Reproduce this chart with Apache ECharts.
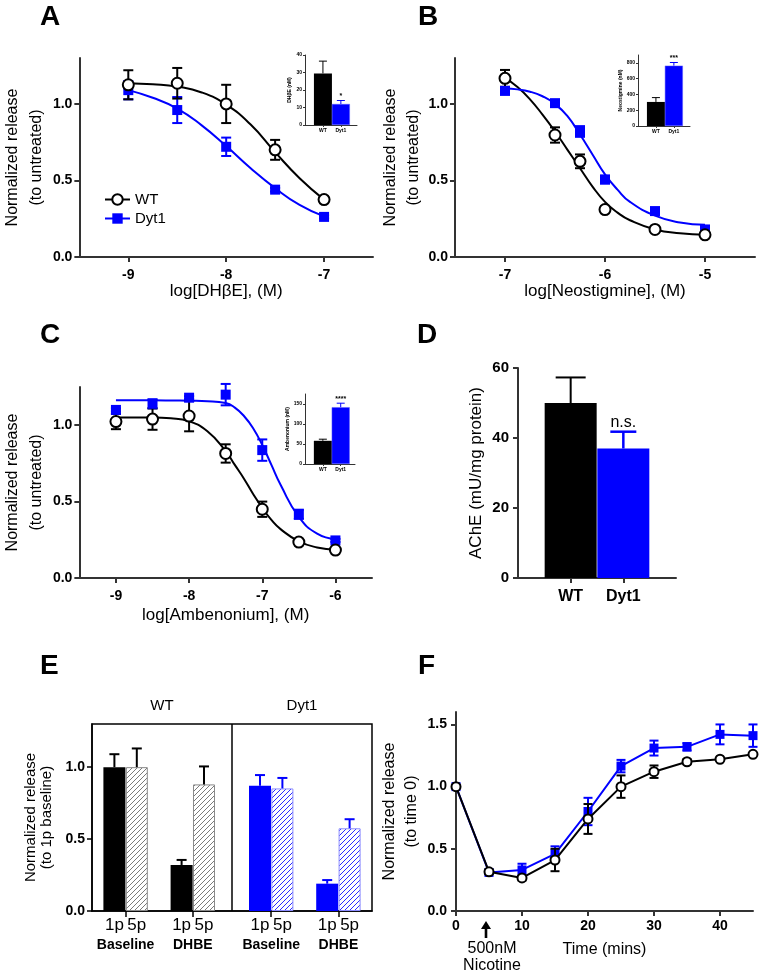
<!DOCTYPE html>
<html lang="en">
<head>
<meta charset="UTF-8">
<title>Dyt1 ACh release</title>
<script src="https://cdn.jsdelivr.net/npm/echarts@6/dist/echarts.min.js"></script>
<style>
html, body { margin: 0; padding: 0; background: #fff; }
#main { width: 760px; height: 975px; }
</style>
</head>
<body>
<div id="main"></div>
<script>
var FONT = "'Liberation Sans', Arial, sans-serif";
var BLUE = '#0000ff';

// A - DHbE dose response
var doseA = [-9, -8.5, -8, -7.5, -7];
var wtA = [1.125, 1.135, 1.0, 0.70, 0.375];
var wtAErr = [0.095, 0.10, 0.125, 0.065, 0.02];
var dytA = [1.09, 0.96, 0.72, 0.44, 0.262];
var dytAErr = [0.06, 0.085, 0.06, 0.012, 0.01];
var fitDoseA = [-9, -8.75, -8.5, -8.25, -8, -7.75, -7.5, -7.25, -7];
var fitWtA = [1.135, 1.128, 1.113, 1.075, 0.995, 0.865, 0.685, 0.515, 0.375];
var fitDytA = [1.09, 1.04, 0.97, 0.86, 0.725, 0.58, 0.45, 0.34, 0.265];
var insetA = [29.5, 12];
var insetAErr = [36.5, 14];

// B - Neostigmine dose response
var doseB = [-7, -6.5, -6.25, -6, -5.5, -5];
var wtB = [1.167, 0.797, 0.625, 0.31, 0.18, 0.145];
var wtBErr = [0.055, 0.05, 0.045, 0.02, 0.01, 0.01];
var dytB = [1.085, 1.005, 0.82, 0.506, 0.30, 0.18];
var dytBErr = [0.01, 0.01, 0.035, 0.025, 0.01, 0.01];
var fitDoseB = [-7, -6.875, -6.75, -6.625, -6.5, -6.375, -6.25, -6.125, -6, -5.875, -5.75, -5.5, -5.25, -5];
var fitWtB = [1.17, 1.11, 1.03, 0.93, 0.82, 0.70, 0.58, 0.46, 0.36, 0.29, 0.24, 0.18, 0.155, 0.145];
var fitDytB = [1.10, 1.095, 1.08, 1.05, 1.00, 0.92, 0.80, 0.67, 0.54, 0.44, 0.36, 0.27, 0.225, 0.21];
var insetB = [305, 765];
var insetBErr = [360, 805];

// C - Ambenonium dose response
var doseC = [-9, -8.5, -8, -7.5, -7, -6.5, -6];
var wtC = [1.024, 1.04, 1.06, 0.815, 0.45, 0.235, 0.183];
var wtCErr = [0.05, 0.07, 0.10, 0.06, 0.05, 0.01, 0.01];
var dytC = [1.10, 1.14, 1.18, 1.20, 0.837, 0.417, 0.246];
var dytCErr = [0.01, 0.03, 0.01, 0.07, 0.07, 0.03, 0.01];
var fitDoseC = [-9, -8.5, -8.25, -8, -7.75, -7.5, -7.375, -7.25, -7.125, -7, -6.875, -6.75, -6.5, -6.25, -6];
var fitWtC = [1.05, 1.05, 1.045, 1.025, 0.96, 0.83, 0.74, 0.65, 0.55, 0.46, 0.38, 0.32, 0.24, 0.20, 0.185];
var fitDytC = [1.163, 1.163, 1.162, 1.16, 1.157, 1.145, 1.115, 1.06, 0.98, 0.87, 0.74, 0.61, 0.40, 0.29, 0.255];
var insetC = [58, 142];
var insetCErr = [62, 152];

// D - AChE activity
var acheD = [50, 37];
var acheDErr = [57.3, 41.8];

// E - 1p / 5p release, order: baseline 1p, baseline 5p, DHBE 1p, DHBE 5p
var relWtE = [1.0, 1.0, 0.32, 0.88];
var relWtEErr = [1.09, 1.13, 0.355, 1.005];
var relDytE = [0.87, 0.852, 0.19, 0.575];
var relDytEErr = [0.945, 0.925, 0.215, 0.638];
var posWtE = [1, 2, 4, 5];
var posDytE = [7.5, 8.5, 10.5, 11.5];

// F - time course after nicotine
var timeF = [0, 5, 10, 15, 20, 25, 30, 35, 40, 45];
var wtF = [1.0, 0.315, 0.266, 0.41, 0.74, 1.0, 1.12, 1.20, 1.22, 1.26];
var wtFErr = [0, 0.02, 0.02, 0.09, 0.12, 0.09, 0.05, 0.02, 0.01, 0.01];
var dytF = [1.0, 0.31, 0.33, 0.46, 0.80, 1.165, 1.31, 1.32, 1.42, 1.41];
var dytFErr = [0, 0.01, 0.05, 0.06, 0.11, 0.05, 0.06, 0.03, 0.08, 0.09];

function zip(xs, ys) {
    return xs.map(function (x, i) { return [x, ys[i]]; });
}
function zipErr(xs, ys, es) {
    return xs.map(function (x, i) { return [x, ys[i] - es[i], ys[i] + es[i]]; });
}
function zipUp(xs, ys, tops) {
    return xs.map(function (x, i) { return [x, ys[i], tops[i]]; });
}

function hatch(color) {
    var c = document.createElement('canvas');
    c.width = 5; c.height = 5;
    var g = c.getContext('2d');
    g.fillStyle = '#fff';
    g.fillRect(0, 0, 5, 5);
    g.strokeStyle = color;
    g.lineWidth = 1;
    g.beginPath();
    g.moveTo(0, 5); g.lineTo(5, 0);
    g.moveTo(-1, 1); g.lineTo(1, -1);
    g.moveTo(4, 6); g.lineTo(6, 4);
    g.stroke();
    return { image: c, repeat: 'repeat' };
}

function mkAxis(o) {
    var lc = o.lc || '#333', lw = o.lw || 2;
    return {
        type: 'value', gridIndex: o.g, min: o.min, max: o.max, position: o.pos,
        name: o.name || '', nameLocation: 'middle', nameGap: o.gap,
        nameTextStyle: { fontFamily: FONT, fontSize: o.nameSize || 16, lineHeight: o.lh,
            color: '#000', fontWeight: o.nameWeight || 'normal' },
        axisLine: { show: o.line !== false, lineStyle: { color: lc, width: lw } },
        axisTick: { show: !!o.tickLen, length: o.tickLen, customValues: o.ticks,
            lineStyle: { color: lc, width: lw } },
        axisLabel: { show: o.labels !== null, customValues: o.labels || o.ticks, formatter: o.fmt,
            margin: o.margin, fontFamily: FONT, fontSize: o.size || 14,
            fontWeight: o.weight || 'bold', color: '#000' },
        splitLine: { show: false }
    };
}
function fix1(v) { return v.toFixed(1); }
function int(v) { return String(Math.round(v)); }
function wtDyt(v) { return v < 1.5 ? 'WT' : 'Dyt1'; }

function fitLine(name, xi, yi, xs, ys, color, sym) {
    return { type: 'line', name: name, xAxisIndex: xi, yAxisIndex: yi, data: zip(xs, ys),
        smooth: true, showSymbol: false, symbol: sym, symbolSize: 10, z: 2, silent: true,
        lineStyle: { color: color, width: 2 }, itemStyle: { color: color } };
}
function points(xi, yi, xs, ys, sym, size, color) {
    return { type: 'scatter', xAxisIndex: xi, yAxisIndex: yi, data: zip(xs, ys),
        symbol: sym, symbolSize: size, z: 5, silent: true, itemStyle: { color: color, opacity: 1 } };
}
function errBars(xi, yi, data, color, capW, both, lw, labels, labelFont) {
    return { type: 'custom', xAxisIndex: xi, yAxisIndex: yi, data: data, z: 4, silent: true,
        encode: { x: 0, y: [1, 2] },
        renderItem: function (params, api) {
            var x = api.value(0);
            var a = api.coord([x, api.value(1)]), b = api.coord([x, api.value(2)]);
            var st = { stroke: color, lineWidth: lw || 2 };
            var ch = [
                { type: 'line', shape: { x1: a[0], y1: a[1], x2: b[0], y2: b[1] }, style: st },
                { type: 'line', shape: { x1: b[0] - capW / 2, y1: b[1], x2: b[0] + capW / 2, y2: b[1] }, style: st }
            ];
            if (both) {
                ch.push({ type: 'line', shape: { x1: a[0] - capW / 2, y1: a[1], x2: a[0] + capW / 2, y2: a[1] }, style: st });
            }
            if (labels && labels[params.dataIndex]) {
                ch.push({ type: 'text', style: { text: labels[params.dataIndex], x: b[0], y: b[1] - 1,
                    align: 'center', verticalAlign: 'bottom', font: labelFont, fill: color === BLUE ? '#000' : color } });
            }
            return { type: 'group', children: ch };
        } };
}
function insetBars(xi, vals) {
    return { type: 'bar', xAxisIndex: xi, yAxisIndex: xi, barWidth: 18, silent: true, z: 2,
        data: [{ value: [1, vals[0]], itemStyle: { color: '#000' } },
               { value: [2, vals[1]], itemStyle: { color: BLUE, borderColor: '#5a5aff', borderWidth: 0.5 } }] };
}
function insetErr(xi, vals, tops, stars) {
    return [
        errBars(xi, xi, [[1, vals[0], tops[0]]], '#000', 8, false, 1),
        errBars(xi, xi, [[2, vals[1], tops[1]]], BLUE, 8, false, 1, [stars], 'bold 7px ' + FONT)
    ];
}
function insetAxes(g, xmax, ymax, yticks, name) {
    return {
        x: mkAxis({ g: g, min: 0, max: xmax, ticks: [1, 2], fmt: wtDyt, tickLen: 2, lw: 1,
            margin: 3, size: 5 }),
        y: mkAxis({ g: g, min: 0, max: ymax, ticks: yticks, fmt: int, tickLen: 2, lw: 1,
            margin: 3, size: 5, name: name, gap: 12, nameSize: 5, nameWeight: 'bold' })
    };
}

var grids = [
    { left: 72, top: 58, width: 301, height: 199 },
    { left: 305, top: 55, width: 52, height: 70 },
    { left: 455, top: 58, width: 300, height: 199 },
    { left: 638, top: 55, width: 52, height: 71 },
    { left: 72, top: 387, width: 300, height: 191 },
    { left: 305, top: 394, width: 50, height: 70 },
    { left: 518, top: 368, width: 158, height: 210 },
    { left: 92, top: 724, width: 280, height: 187, show: true, borderColor: '#000', borderWidth: 1.5 },
    { left: 456, top: 712, width: 297, height: 199 }
];

var yName = 'Normalized release\n(to untreated)';
var iA = insetAxes(1, 2.9, 40, [0, 10, 20, 30, 40], 'DHβE (nM)');
var iB = insetAxes(3, 2.9, 900, [0, 200, 400, 600, 800], 'Neostigmine (nM)');
var iC = insetAxes(5, 2.8, 175, [0, 50, 100, 150], 'Ambenonium (nM)');

var xAxes = [
    mkAxis({ g: 0, min: -9.5, max: -6.5, ticks: [-9, -8, -7], fmt: int, tickLen: 5, margin: 11,
        name: 'log[DHβE], (M)', gap: 25, nameSize: 17 }),
    iA.x,
    mkAxis({ g: 2, min: -7.5, max: -4.5, ticks: [-7, -6, -5], fmt: int, tickLen: 5, margin: 11,
        name: 'log[Neostigmine], (M)', gap: 25, nameSize: 17 }),
    iB.x,
    mkAxis({ g: 4, min: -9.5, max: -5.5, ticks: [-9, -8, -7, -6], fmt: int, tickLen: 5, margin: 11,
        name: 'log[Ambenonium], (M)', gap: 29, nameSize: 17 }),
    iC.x,
    mkAxis({ g: 6, min: 0, max: 3, ticks: [1, 2], fmt: wtDyt, tickLen: 5, margin: 11, size: 16 }),
    mkAxis({ g: 7, min: 0, max: 12.5, pos: 'bottom', ticks: [1.5, 4.5, 8, 11],
        labels: posWtE.concat(posDytE), fmt: function (v) { return (v % 3 === 1 || v === 7.5 || v === 10.5) ? '1p' : '5p'; },
        tickLen: 6, lc: '#000', lw: 1.5, margin: 6, size: 17, weight: 'normal' }),
    mkAxis({ g: 7, min: 0, max: 12.5, pos: 'bottom', line: false, ticks: [1.5, 4.5, 8, 11],
        fmt: function (v) { return (v === 1.5 || v === 8) ? 'Baseline' : 'DHBE'; }, margin: 27, size: 14 }),
    mkAxis({ g: 7, min: 0, max: 12.5, pos: 'top', line: false, ticks: [3.125, 9.375],
        fmt: function (v) { return v < 6 ? 'WT' : 'Dyt1'; }, margin: 11, size: 15, weight: 'normal' }),
    mkAxis({ g: 8, min: 0, max: 45, ticks: [0, 10, 20, 30, 40], fmt: int, tickLen: 5, margin: 8,
        name: 'Time (mins)', gap: 31, nameSize: 16 })
];
var F_X = 10;

var yAxes = [
    mkAxis({ g: 0, min: 0, max: 1.3, ticks: [0, 0.5, 1], fmt: fix1, tickLen: 5, margin: 7,
        name: yName, gap: 26, lh: 24 }),
    iA.y,
    mkAxis({ g: 2, min: 0, max: 1.3, ticks: [0, 0.5, 1], fmt: fix1, tickLen: 5, margin: 7,
        name: yName, gap: 28, lh: 23 }),
    iB.y,
    mkAxis({ g: 4, min: 0, max: 1.25, ticks: [0, 0.5, 1], fmt: fix1, tickLen: 5, margin: 7,
        name: yName, gap: 26, lh: 24 }),
    iC.y,
    mkAxis({ g: 6, min: 0, max: 60, ticks: [0, 20, 40, 60], fmt: int, tickLen: 5, margin: 9, size: 15,
        name: 'AChE (mU/mg protein)', gap: 32, nameSize: 17, lh: 20 }),
    mkAxis({ g: 7, min: 0, max: 1.3, ticks: [0, 0.5, 1], fmt: fix1, tickLen: 5, lc: '#000', lw: 1.5,
        margin: 7, name: 'Normalized release\n(to 1p baseline)', gap: 37, nameSize: 15, lh: 16 }),
    mkAxis({ g: 8, min: 0, max: 1.6, ticks: [0, 0.5, 1, 1.5], fmt: fix1, tickLen: 5, margin: 9,
        name: 'Normalized release\n(to time 0)', gap: 33, lh: 22 })
];

var series = [];
// A
series.push(fitLine('WT', 0, 0, fitDoseA, fitWtA, '#000', 'emptyCircle'));
series.push(fitLine('Dyt1', 0, 0, fitDoseA, fitDytA, BLUE, 'rect'));
series.push(errBars(0, 0, zipErr(doseA, dytA, dytAErr), BLUE, 10, true));
series.push(errBars(0, 0, zipErr(doseA, wtA, wtAErr), '#000', 10, true));
series.push(points(0, 0, doseA, dytA, 'rect', 10, BLUE));
series.push(points(0, 0, doseA, wtA, 'emptyCircle', 11, '#000'));
series.push(insetBars(1, insetA));
series = series.concat(insetErr(1, insetA, insetAErr, '*'));
// B
series.push(fitLine('wtB', 2, 2, fitDoseB, fitWtB, '#000', 'emptyCircle'));
series.push(fitLine('dytB', 2, 2, fitDoseB, fitDytB, BLUE, 'rect'));
series.push(errBars(2, 2, zipErr(doseB, dytB, dytBErr), BLUE, 10, true));
series.push(errBars(2, 2, zipErr(doseB, wtB, wtBErr), '#000', 10, true));
series.push(points(2, 2, doseB, dytB, 'rect', 10, BLUE));
series.push(points(2, 2, doseB, wtB, 'emptyCircle', 11, '#000'));
series.push(insetBars(3, insetB));
series = series.concat(insetErr(3, insetB, insetBErr, '***'));
// C
series.push(fitLine('wtC', 4, 4, fitDoseC, fitWtC, '#000', 'emptyCircle'));
series.push(fitLine('dytC', 4, 4, fitDoseC, fitDytC, BLUE, 'rect'));
series.push(errBars(4, 4, zipErr(doseC, dytC, dytCErr), BLUE, 10, true));
series.push(errBars(4, 4, zipErr(doseC, wtC, wtCErr), '#000', 10, true));
series.push(points(4, 4, doseC, dytC, 'rect', 10, BLUE));
series.push(points(4, 4, doseC, wtC, 'emptyCircle', 11, '#000'));
series.push(insetBars(5, insetC));
series = series.concat(insetErr(5, insetC, insetCErr, '****'));
// D
series.push({ type: 'bar', xAxisIndex: 6, yAxisIndex: 6, barWidth: 52, silent: true,
    data: [{ value: [1, acheD[0]], itemStyle: { color: '#000' } },
           { value: [2, acheD[1]], itemStyle: { color: BLUE } }] });
series.push(errBars(6, 6, [[1, acheD[0], acheDErr[0]]], '#000', 30, false, 2));
series.push(errBars(6, 6, [[2, acheD[1], acheDErr[1]]], BLUE, 26, false, 2.5, ['n.s.'], '16px ' + FONT));
// E
var grayHatch = hatch('#7a7a7a'), blueHatch = hatch('#2a2aff');
var eData = [];
posWtE.forEach(function (x, i) {
    eData.push({ value: [x, relWtE[i]], itemStyle: i % 2 === 0 ? { color: '#000' } :
        { color: grayHatch, borderColor: '#8a8a8a', borderWidth: 1 } });
});
posDytE.forEach(function (x, i) {
    eData.push({ value: [x, relDytE[i]], itemStyle: i % 2 === 0 ? { color: BLUE } :
        { color: blueHatch, borderColor: '#8c8cff', borderWidth: 1 } });
});
series.push({ type: 'bar', xAxisIndex: 7, yAxisIndex: 7, barWidth: 22, silent: true, data: eData,
    markLine: { silent: true, symbol: ['none', 'none'], label: { show: false },
        lineStyle: { color: '#000', width: 1.5, type: 'solid' }, data: [{ xAxis: 6.25 }] } });
series.push(errBars(7, 7, zipUp(posWtE, relWtE, relWtEErr), '#000', 10, false, 2));
series.push(errBars(7, 7, zipUp(posDytE, relDytE, relDytEErr), BLUE, 10, false, 2));
// F
series.push({ type: 'line', xAxisIndex: F_X, yAxisIndex: 8, data: zip(timeF, dytF), symbol: 'rect',
    symbolSize: 9, z: 3, silent: true, lineStyle: { color: BLUE, width: 2 }, itemStyle: { color: BLUE } });
series.push(errBars(F_X, 8, zipErr(timeF, dytF, dytFErr), BLUE, 9, true));
series.push({ type: 'line', xAxisIndex: F_X, yAxisIndex: 8, data: zip(timeF, wtF), symbol: 'emptyCircle',
    symbolSize: 9, z: 5, silent: true, lineStyle: { color: '#000', width: 2 }, itemStyle: { color: '#000' } });
series.push(errBars(F_X, 8, zipErr(timeF, wtF, wtFErr), '#000', 9, true));

function letter(t, x, y) {
    return { type: 'text', x: x, y: y, silent: true,
        style: { text: t, font: 'bold 28px ' + FONT, fill: '#000', verticalAlign: 'middle' } };
}
var letters = [letter('A', 40, 17), letter('B', 418, 17), letter('C', 40, 335),
    letter('D', 417, 335), letter('E', 40, 666), letter('F', 418, 666)];

var chart = echarts.init(document.getElementById('main'));
chart.setOption({
    backgroundColor: '#fff',
    animation: false,
    textStyle: { fontFamily: FONT },
    grid: grids,
    xAxis: xAxes,
    yAxis: yAxes,
    legend: { data: ['WT', 'Dyt1'], left: 99, top: 187, orient: 'vertical', itemGap: 4,
        itemWidth: 25, itemHeight: 13, selectedMode: false,
        textStyle: { fontFamily: FONT, fontSize: 15, color: '#000' } },
    series: series,
    graphic: letters
});

// nicotine arrow under t = 5 on panel F
var ax = chart.convertToPixel({ xAxisIndex: F_X }, 5) - 3;
chart.setOption({
    graphic: letters.concat([
        { type: 'polygon', silent: true, shape: { points: [[ax, 921], [ax - 5, 929], [ax + 5, 929]] },
            style: { fill: '#000' } },
        { type: 'rect', silent: true, shape: { x: ax - 1.3, y: 927, width: 2.6, height: 11 },
            style: { fill: '#000' } },
        { type: 'text', silent: true, x: ax + 6, y: 949,
            style: { text: '500nM', font: '16px ' + FONT, fill: '#000', align: 'center', verticalAlign: 'middle' } },
        { type: 'text', silent: true, x: ax + 6, y: 966,
            style: { text: 'Nicotine', font: '16px ' + FONT, fill: '#000', align: 'center', verticalAlign: 'middle' } }])
});
</script>
</body>
</html>
